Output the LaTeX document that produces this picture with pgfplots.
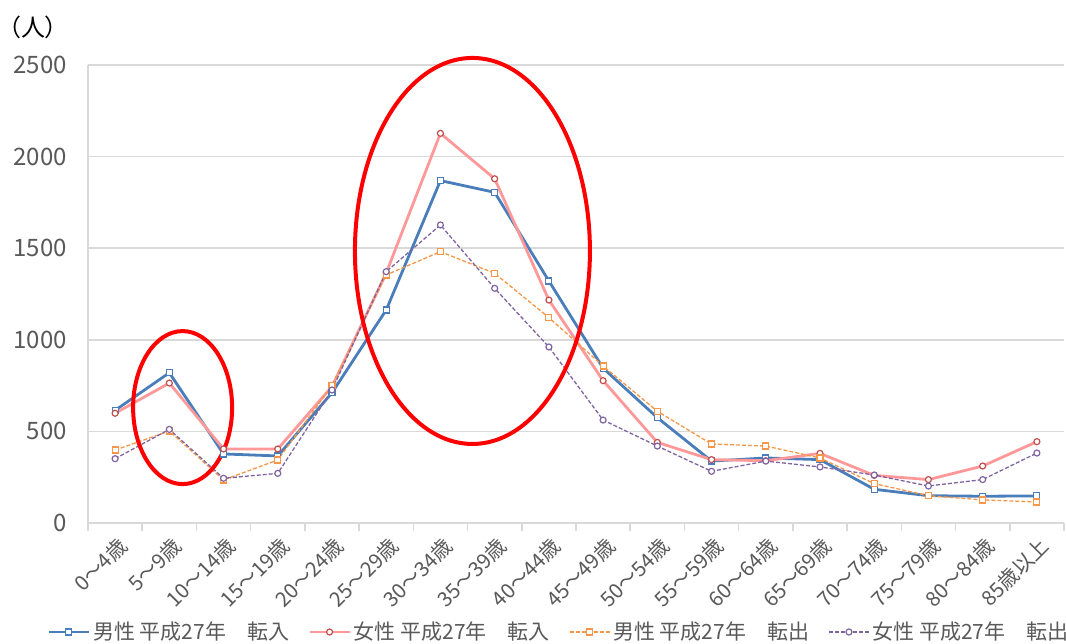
\documentclass[border=0pt]{standalone}
\usepackage{pgfplots}
\pgfplotsset{compat=1.18}
\usepackage{fontspec}
\setmainfont{Noto Sans CJK JP}
\newfontfamily\palt[RawFeature=+palt]{Noto Sans CJK JP}

\definecolor{inblue}{HTML}{4A7EBB}
\definecolor{inpink}{HTML}{FF9999}
\definecolor{inpinkmk}{HTML}{C0504D}
\definecolor{outorange}{HTML}{F79646}
\definecolor{outpurple}{HTML}{8064A2}
\definecolor{gridgray}{HTML}{D9D9D9}
\definecolor{labgray}{HTML}{595959}

\begin{document}
\begin{tikzpicture}
\begin{axis}[
  name=ax,
  scale only axis,
  width=488pt, height=229pt,
  xmin=-0.5, xmax=17.5,
  ymin=0, ymax=2500,
  clip=false,
  axis lines*=left,
  axis line style={gridgray, line width=0.8pt},
  ymajorgrids,
  grid style={gridgray, line width=0.8pt},
  xtick=data,
  xticklabels={0〜4歳,5〜9歳,10〜14歳,15〜19歳,20〜24歳,25〜29歳,30〜34歳,35〜39歳,40〜44歳,45〜49歳,50〜54歳,55〜59歳,60〜64歳,65〜69歳,70〜74歳,75〜79歳,80〜84歳,85歳以上},
  minor xtick={-0.5,0.5,...,17.5},
  ytick={0,500,...,2500},
  major tick length=0pt,
  minor tick length=4pt,
  xtick align=outside,
  minor tick style={gridgray, line width=0.8pt},
  /pgf/number format/assume math mode=true,
  /pgf/number format/1000 sep={},
  yticklabel style={font=\fontsize{12}{12}\selectfont, text=labgray, xshift=-7pt},
  xticklabel style={xshift=6.5pt, yshift=-7pt, rotate=45, anchor=east, font=\fontsize{10.3}{10.3}\selectfont, text=labgray},
  legend columns=4,
  legend style={at={(0.5,0)}, anchor=center, xshift=-8.75pt, yshift=-54.5pt,
    draw=none, fill=none, font=\fontsize{10.5}{10.5}\selectfont, text=labgray,
    nodes={inner sep=0.5pt},
    /tikz/every odd column/.append style={column sep=1pt},
    /tikz/every even column/.append style={column sep=9pt}},
  legend image code/.code={\draw[mark repeat=2,mark phase=2] plot coordinates {(0pt,0pt) (10pt,0pt) (20pt,0pt)};},
]
\addplot[inblue, line width=1.4pt, mark=square*, mark size=1.5pt, mark options={fill=white, line width=0.6pt}]
  coordinates {(0,615) (1,820) (2,377) (3,366) (4,711) (5,1163) (6,1869) (7,1805) (8,1321) (9,845) (10,575) (11,338) (12,355) (13,346) (14,184) (15,149) (16,146) (17,148)};
\addplot[inpink, line width=1.4pt, mark=*, mark size=1.5pt, mark options={fill=white, draw=inpinkmk, line width=0.6pt}]
  coordinates {(0,599) (1,764) (2,404) (3,404) (4,745) (5,1365) (6,2127) (7,1879) (8,1217) (9,777) (10,440) (11,346) (12,340) (13,380) (14,260) (15,237) (16,311) (17,444)};
\addplot[outorange, line width=0.65pt, dash pattern=on 2pt off 1pt, mark=square*, mark size=1.5pt, mark options={fill=white, solid, line width=0.6pt}]
  coordinates {(0,398) (1,502) (2,235) (3,344) (4,750) (5,1354) (6,1481) (7,1363) (8,1121) (9,857) (10,610) (11,431) (12,420) (13,355) (14,215) (15,149) (16,126) (17,115)};
\addplot[outpurple, line width=0.65pt, dash pattern=on 2pt off 1pt, mark=*, mark size=1.5pt, mark options={fill=white, solid, line width=0.6pt}]
  coordinates {(0,351) (1,511) (2,244) (3,271) (4,726) (5,1372) (6,1627) (7,1281) (8,961) (9,562) (10,420) (11,282) (12,338) (13,306) (14,262) (15,202) (16,237) (17,382)};
\legend{男性 平成27年　転入, 女性 平成27年　転入, 男性 平成27年　転出, 女性 平成27年　転出}
\draw[red, line width=2pt] (axis cs:1.245,630) ellipse [x radius=24.75pt, y radius=38.25pt];
\draw[red, line width=2pt] (axis cs:6.59,1485) ellipse [x radius=58.75pt, y radius=96.5pt];
\coordinate (bl) at (rel axis cs:0,0);
\coordinate (tr) at (rel axis cs:1,1);
\node[anchor=center, inner sep=0pt, font=\palt\fontsize{12}{12}\selectfont] at ([xshift=-27.5pt, yshift=19pt]tr -| bl) {（人）};
\end{axis}
\pgfresetboundingbox
\path ([xshift=-44pt, yshift=-60pt]bl) rectangle ([xshift=1pt, yshift=32.5pt]tr);
\end{tikzpicture}
\end{document}
